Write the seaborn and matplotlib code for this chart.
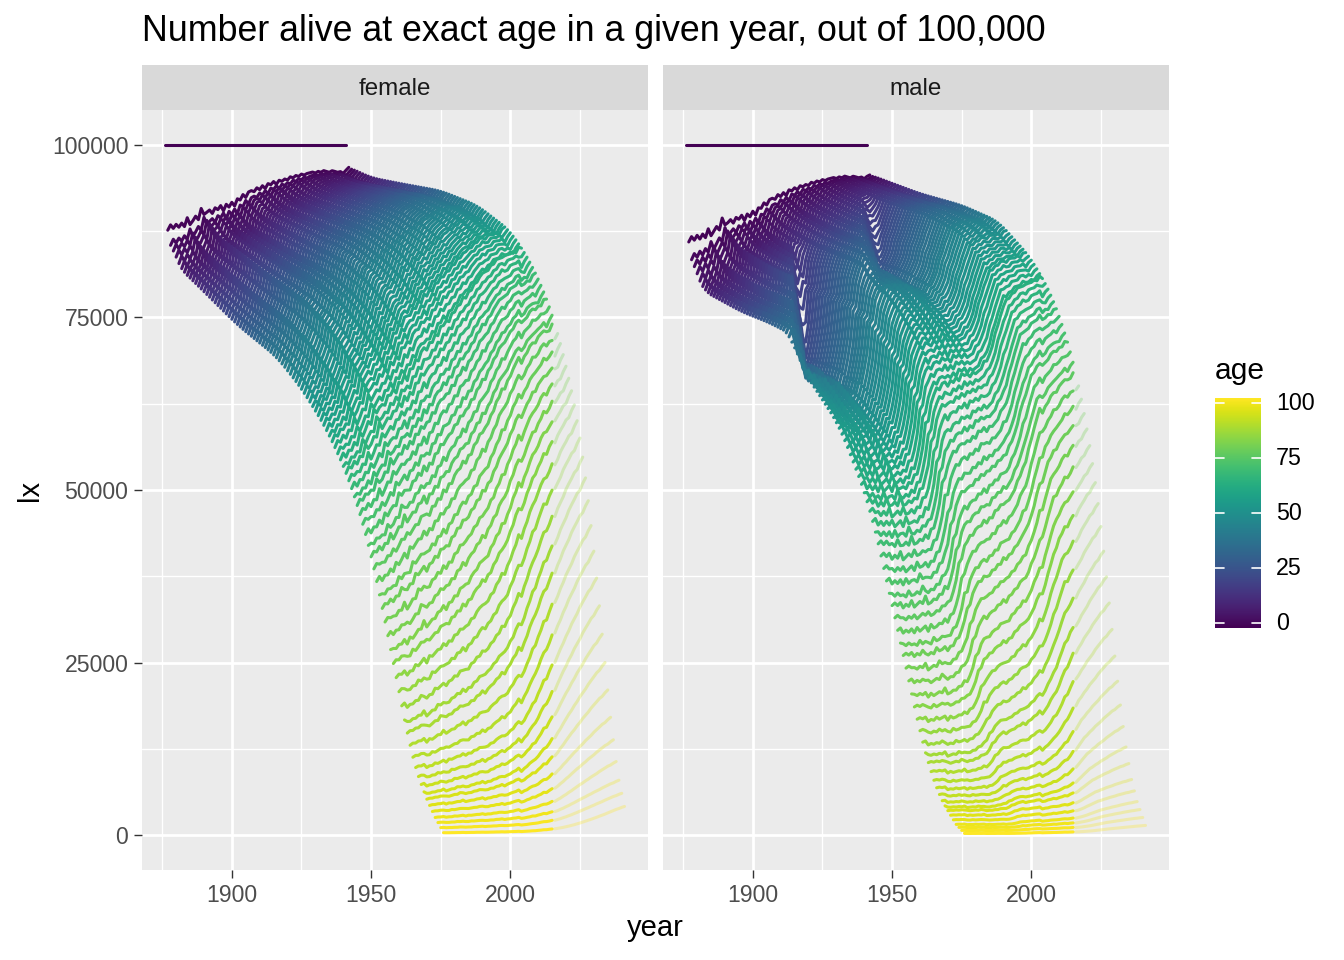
import matplotlib
matplotlib.use('Agg')
import matplotlib.pyplot as plt
import seaborn as sns
import numpy as np
import pandas as pd

# birth cohorts shown in both panels
cohorts = np.arange(1876, 1942)
ages = np.arange(0, 101)
last_observed = 2015

f_age1 = [87600, 88300, 87900, 88400, 88100, 88600, 88200, 89300, 88500, 89000,
          89600, 89200, 90600, 89900, 90200, 90500, 90100, 90800, 90600, 91100,
          90500, 91300, 91000, 91600, 91200, 92100, 92000, 92700, 92400, 93100,
          93300, 93200, 93700, 93500, 94000, 93700, 94300, 94200, 94600, 94300,
          94800, 94700, 95000, 94900, 95300, 95200, 95500, 95400, 95700, 95600,
          95800, 95900, 96000, 95900, 96100, 96000, 96200, 96100, 96000, 96200,
          96100, 96000, 96100, 95900, 96300, 96700]
m_age1 = [85900, 86600, 86200, 86800, 86400, 87000, 86600, 87700, 86900, 87500,
          88100, 87700, 89200, 88400, 88700, 89100, 88700, 89400, 89200, 89700,
          89100, 89900, 89600, 90300, 89900, 90800, 90800, 91500, 91300, 92000,
          92200, 92100, 92700, 92500, 93000, 92700, 93400, 93300, 93700, 93500,
          94000, 93900, 94200, 94100, 94500, 94400, 94700, 94600, 94900, 94800,
          95000, 95100, 95200, 95100, 95300, 95200, 95400, 95300, 95200, 95400,
          95300, 95200, 95300, 95100, 95400, 95600]

# oldest cohort (1876), left edge of each block
f_old_ages = [0, 1, 3, 5, 10, 19, 26, 40, 49, 58, 66, 73, 79, 84, 89, 94, 97, 100]
f_old_lx = [100000, 87600, 84000, 82200, 80300, 76700, 73900, 69300, 64700, 58800,
            51700, 42500, 31000, 20800, 10600, 5200, 2600, 400]
m_old_ages = [0, 1, 3, 6, 20, 30, 38, 41, 55, 65, 71, 74, 78, 80, 84, 88, 92, 97, 100]
m_old_lx = [100000, 85900, 81500, 78900, 75800, 74200, 72500, 68000, 59300, 48800,
            39000, 32850, 26600, 22000, 15000, 8700, 4900, 1600, 300]

# youngest cohort (1941), right edge of each block (beyond 2015 projected)
f_new_ages = [0, 1, 9, 19, 34, 47, 59, 67, 74, 80, 84, 87, 89, 91, 93, 95, 97, 98, 100]
f_new_lx = [100000, 96700, 95200, 94400, 93300, 91200, 87500, 82500, 75800, 66600,
            58500, 49000, 41500, 33300, 24900, 17000, 10700, 8000, 4200]
m_new_ages = [0, 1, 19, 34, 47, 59, 67, 74, 77, 81, 83, 85, 87, 89, 91, 93, 95, 97, 100]
m_new_lx = [100000, 95600, 92900, 91200, 88900, 83500, 77700, 69000, 63500, 54500,
            48500, 42000, 33500, 25500, 18500, 12500, 8000, 4900, 1450]

# how far each cohort has moved from the 1876 edge towards the 1941 edge
g_cohorts = [1876, 1890, 1905, 1914, 1919, 1924, 1930, 1941]
g_ages = [1, 60, 80, 90, 100]
g_young = [0, 0.27, 0.46, 0.60, 0.68, 0.76, 0.90, 1]
g_60 = [0, 0.22, 0.42, 0.55, 0.63, 0.72, 0.85, 1]
g_80 = [0, 0.12, 0.27, 0.40, 0.52, 0.66, 0.80, 1]
g_90 = [0, 0.06, 0.17, 0.30, 0.45, 0.62, 0.78, 1]
g_100 = [0, 0.04, 0.14, 0.33, 0.45, 0.60, 0.76, 1]

# male war losses (share of cohort lost), by age in 1916 and in 1942
ww1_ages = [14, 17, 19, 22, 26, 30, 35, 40, 46]
ww1_loss = [0, 0.06, 0.14, 0.17, 0.16, 0.13, 0.09, 0.05, 0]
ww2_ages = [14, 17, 20, 24, 30, 38, 46]
ww2_loss = [0, 0.03, 0.07, 0.08, 0.05, 0.02, 0]

# bad years for old-age mortality (extra hazard at age 90)
shock_years = [1880, 1884, 1890, 1893, 1900, 1906, 1911, 1918, 1922, 1929, 1935, 1940,
               1944, 1949, 1953, 1957, 1962, 1969, 1976, 1983, 1990, 1997, 2003, 2008,
               2012, 2015]
shock_size = [0.05, 0.03, 0.06, 0.04, 0.05, 0.04, 0.05, 0.06, 0.03, 0.05, 0.03, 0.05,
              0.04, 0.04, 0.04, 0.03, 0.05, 0.05, 0.03, 0.03, 0.03, 0.03, 0.06, 0.02,
              0.03, 0.03]


def logit(p):
    p = np.clip(p, 1e-6, 1 - 1e-6)
    return np.log(p / (1 - p))


def smooth(v, k):
    pad = k // 2
    vp = np.pad(v, pad, mode='edge')
    return np.convolve(vp, np.ones(k) / k, mode='valid')


def period_factor(c, a, male):
    c = np.asarray(c, dtype=float)
    a = np.asarray(a, dtype=float)
    y = c + a
    f = np.ones(np.broadcast(c, a).shape)
    if male:
        l1 = np.interp(1916 - c, ww1_ages, ww1_loss, left=0, right=0)
        p1 = np.clip((y - 1914) / 5.0, 0, 1)
        l2 = np.interp(1942 - c, ww2_ages, ww2_loss, left=0, right=0)
        p2 = np.clip((y - 1939.5) / 6.0, 0, 1)
        f = f * (1 - l1 * p1) * (1 - l2 * p2)
    haz = np.zeros_like(f)
    for sy, ss in zip(shock_years, shock_size):
        age_at = sy - c
        hit = (age_at >= 0) & (sy < y)
        haz = haz + np.where(hit, ss * np.minimum(np.exp(0.07 * (age_at - 90)), 1.4), 0)
    return f * np.exp(-haz)


g_table = np.array([g_young, g_60, g_80, g_90, g_100])
g_by_cohort = []
for row in g_table:
    g = smooth(np.interp(cohorts, g_cohorts, row), 9)
    g_by_cohort.append((g - g[0]) / (g[-1] - g[0]))
g_by_cohort = np.array(g_by_cohort)
G = np.array([np.interp(ages, g_ages, g_by_cohort[:, i]) for i in range(len(cohorts))])


def edge(key_ages, key_lx):
    v = np.interp(ages, key_ages, key_lx)
    sm = v.copy()
    sm[1:] = smooth(v[1:], 7)
    # keep the tail unsmoothed so the oldest ages stay close to zero
    w = np.clip((ages - 88) / 8.0, 0, 1)
    v = sm * (1 - w) + v * w
    v[1] = key_lx[1]
    return v


def build(sex, age1, old_ages, old_lx, new_ages, new_lx, male):
    age1 = np.array(age1, dtype=float)
    # childhood conditions of a cohort carry over to later ages
    dev = np.log(age1) - np.log(smooth(age1, 7))
    old = edge(old_ages, old_lx) / period_factor(1876, ages, male)
    new = edge(new_ages, new_lx) / period_factor(1941, ages, male)
    z0 = logit(old / age1[0])
    z1 = logit(new / age1[-1])
    z = z0[None, :] + G * (z1 - z0)[None, :]
    lx = age1[:, None] / (1 + np.exp(-z))
    C, A = np.meshgrid(cohorts, ages, indexing='ij')
    carry = np.exp(dev[:, None] * np.minimum(A / 5.0, 1.0))
    carry[0, :] = 1
    carry[-1, :] = 1
    lx = lx * period_factor(C, A, male) * carry
    lx[:, 0] = 100000
    return pd.DataFrame({'sex': sex, 'cohort': C.ravel(), 'age': A.ravel(),
                         'year': (C + A).ravel(), 'lx': lx.ravel()})


df = pd.concat([build('female', f_age1, f_old_ages, f_old_lx, f_new_ages, f_new_lx, False),
                build('male', m_age1, m_old_ages, m_old_lx, m_new_ages, m_new_lx, True)])

sns.set_theme(style='darkgrid', rc={'axes.facecolor': '#EBEBEB', 'grid.color': 'white'})
plt.rcParams['font.family'] = ['Liberation Sans', 'DejaVu Sans']

W, H = 1344, 960
fig = plt.figure(figsize=(6.72, 4.8), dpi=200)
fig.patch.set_facecolor('white')

panel_lefts = [142, 663]
panel_w = 505.5
for i, sex in enumerate(['female', 'male']):
    left = panel_lefts[i]
    ax = fig.add_axes([left / W, 1 - 870 / H, panel_w / W, 760 / H])
    d = df[df.sex == sex]
    sns.lineplot(data=d[d.year <= last_observed], x='year', y='lx', hue='age',
                 palette='viridis', hue_norm=(0, 100), units='age', estimator=None,
                 legend=False, ax=ax, linewidth=1.1)
    sns.lineplot(data=d[d.year > last_observed], x='year', y='lx', hue='age',
                 palette='viridis', hue_norm=(0, 100), units='age', estimator=None,
                 legend=False, ax=ax, linewidth=1.1, alpha=0.3)
    ax.set_xlim(1867.75, 2049.25)
    ax.set_ylim(-5000, 105000)
    ax.set_xticks([1900, 1950, 2000])
    ax.set_xticks([1875, 1925, 1975, 2025], minor=True)
    ax.set_yticks([0, 25000, 50000, 75000, 100000])
    ax.set_yticks([12500, 37500, 62500, 87500], minor=True)
    ax.grid(which='major', color='white', linewidth=1.0)
    ax.grid(which='minor', color='white', linewidth=0.5)
    ax.set_axisbelow(True)
    for s in ax.spines.values():
        s.set_visible(False)
    ax.tick_params(which='major', length=2.75, width=0.5, color='#333333',
                   labelsize=8.3, labelcolor='#4D4D4D', pad=2.2)
    ax.tick_params(which='minor', length=0)
    ax.tick_params(axis='x', bottom=True)
    if i == 0:
        ax.tick_params(axis='y', left=True)
        ax.set_yticklabels(['0', '25000', '50000', '75000', '100000'])
    else:
        ax.tick_params(axis='y', left=False, labelleft=False)
    ax.set_xlabel('')
    ax.set_ylabel('')

    strip = fig.add_axes([left / W, 1 - 110 / H, panel_w / W, 45 / H])
    strip.set_facecolor('#D9D9D9')
    strip.set_xticks([])
    strip.set_yticks([])
    strip.grid(False)
    for s in strip.spines.values():
        s.set_visible(False)
    strip.text(0.5, 0.46, sex, ha='center', va='center', fontsize=8.7, color='#1A1A1A')

fig.text(142 / W, 1 - 41 / H, 'Number alive at exact age in a given year, out of 100,000',
         ha='left', va='baseline', fontsize=12.9, color='black')
fig.text(655 / W, 1 - 928 / H, 'year', ha='center', va='center', fontsize=10.5, color='black')
fig.text(30 / W, 1 - 490 / H, 'lx', ha='center', va='center', rotation=90, fontsize=10.5,
         color='black')

# colour bar legend
cb = fig.add_axes([1215 / W, 1 - 628.3 / H, 46 / W, 230 / H])
cb.imshow(np.linspace(0, 100, 300)[:, None], aspect='auto', cmap='viridis',
          origin='lower', extent=[0, 1, -2.3, 102.3])
cb.set_xlim(0, 1)
cb.set_ylim(-2.3, 102.3)
cb.set_xticks([])
cb.set_yticks([])
cb.grid(False)
for s in cb.spines.values():
    s.set_visible(False)
for b in [0, 25, 50, 75, 100]:
    cb.plot([0, 0.2], [b, b], color='white', linewidth=0.6)
    cb.plot([0.8, 1], [b, b], color='white', linewidth=0.6)
    cb.text(1.33, b, str(b), ha='left', va='center', fontsize=8.4, color='black',
            clip_on=False)
fig.text(1215 / W, 1 - 379 / H, 'age', ha='left', va='baseline', fontsize=10.8, color='black')

fig.savefig('out.png', dpi=200, facecolor='white')
